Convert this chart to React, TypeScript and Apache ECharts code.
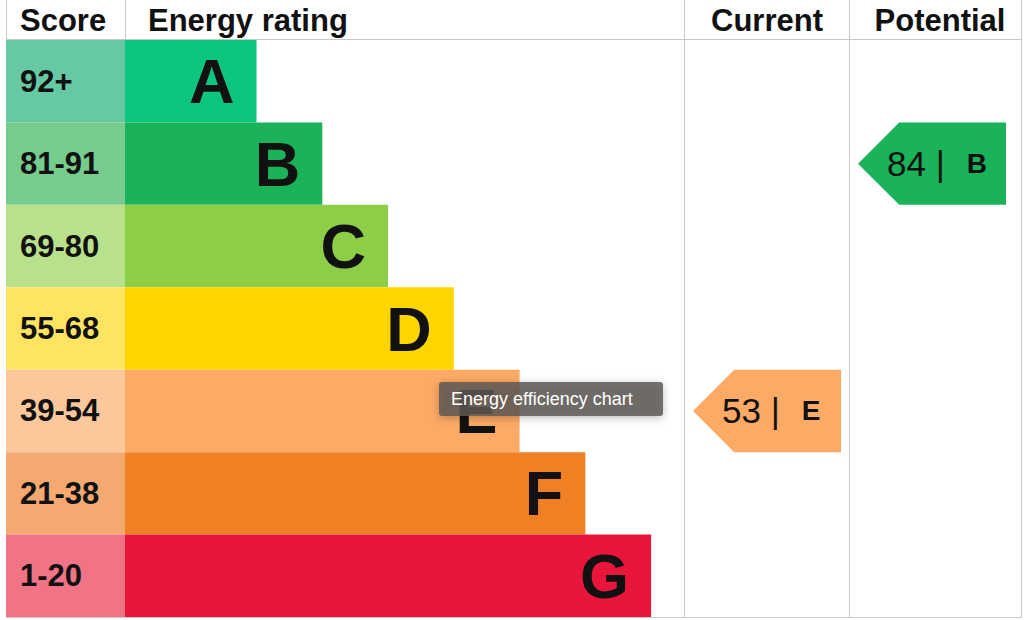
import React, { useEffect, useRef } from "react";
import * as echarts from "echarts";

const bands = ["A", "B", "C", "D", "E", "F", "G"];
const scoreRanges = ["92+", "81-91", "69-80", "55-68", "39-54", "21-38", "1-20"];
const barLengths = [2, 3, 4, 5, 6, 7, 8];
const barColors = ["#0cc57f", "#1bb35a", "#8cce46", "#ffd500", "#fcaa65", "#ef8023", "#e9153b"];
const scoreColors = ["#66c9a3", "#76cc8c", "#b9e08a", "#ffe462", "#fdc79c", "#f4a971", "#f07386"];
const headers = ["Score", "Energy rating", "Current", "Potential"];
const currentScore = 53;
const currentBand = "E";
const potentialScore = 84;
const potentialBand = "B";
const tooltipText = "Energy efficiency chart";

const FONT = "'Liberation Sans', Arial, Helvetica, sans-serif";
const LINE = "#c8c8c8";

const TOP = 40;
const H = 577;

function arrowRender(params: any, api: any) {
  const row = api.value(1);
  const score = api.value(2);
  const band = bands[row];
  const cs = params.coordSys;
  const c = api.coord([0, row]);
  const h = api.size([0, 1])[1];
  const top = c[1] - h / 2;
  const bottom = c[1] + h / 2;
  const x0 = cs.x + 9;
  const w = 148;
  return {
    type: "group",
    children: [
      {
        type: "polygon",
        shape: {
          points: [
            [x0, c[1]],
            [x0 + h / 2, top],
            [x0 + w, top],
            [x0 + w, bottom],
            [x0 + h / 2, bottom],
          ],
        },
        style: { fill: barColors[row] },
      },
      {
        type: "text",
        x: x0 + 29,
        y: c[1],
        style: {
          text: `{n|${score} |}{l|${band}}`,
          align: "left",
          verticalAlign: "middle",
          rich: {
            n: { fontSize: 35, fontFamily: FONT, fill: "#111" },
            l: { fontSize: 28, fontWeight: "bold", fontFamily: FONT, fill: "#111", padding: [0, 0, 0, 22] },
          },
        },
      },
    ],
  };
}

export default function App() {
  const ref = useRef<HTMLDivElement>(null);
  useEffect(() => {
    if (!ref.current) return;
    const chart = echarts.init(ref.current, null, { renderer: "svg" });
    const grids = [
      { left: 6, top: TOP, width: 119, height: H },
      { left: 125, top: TOP, width: 559, height: H },
      { left: 684, top: TOP, width: 165, height: H },
      { left: 849, top: TOP, width: 173, height: H },
    ];
    const xMax = [1, 8.5, 1, 1];
    const option: any = {
      animation: false,
      backgroundColor: "#ffffff",
      grid: grids,
      xAxis: grids.map((_, i) => ({
        type: "value",
        gridIndex: i,
        min: 0,
        max: xMax[i],
        show: false,
      })),
      yAxis: grids.map((_, i) => ({
        type: "category",
        gridIndex: i,
        data: bands,
        inverse: true,
        show: false,
      })),
      series: [
        {
          type: "bar",
          xAxisIndex: 0,
          yAxisIndex: 0,
          barWidth: "100%",
          data: scoreRanges.map((_, i) => ({ value: 1, itemStyle: { color: scoreColors[i] } })),
          label: {
            show: true,
            position: "insideLeft",
            distance: 14,
            formatter: (p: any) => scoreRanges[p.dataIndex],
            fontSize: 31,
            fontWeight: "bold",
            fontFamily: FONT,
            color: "#111",
          },
        },
        {
          type: "bar",
          xAxisIndex: 1,
          yAxisIndex: 1,
          barWidth: "100%",
          data: barLengths.map((v, i) => ({ value: v, itemStyle: { color: barColors[i] } })),
          label: {
            show: true,
            position: "insideRight",
            distance: 22,
            formatter: (p: any) => bands[p.dataIndex],
            fontSize: 63,
            fontWeight: "bold",
            fontFamily: FONT,
            color: "#111",
          },
        },
        {
          type: "custom",
          xAxisIndex: 2,
          yAxisIndex: 2,
          renderItem: arrowRender,
          encode: { x: 0, y: 1 },
          data: [[0, bands.indexOf(currentBand), currentScore]],
        },
        {
          type: "custom",
          xAxisIndex: 3,
          yAxisIndex: 3,
          renderItem: arrowRender,
          encode: { x: 0, y: 1 },
          data: [[0, bands.indexOf(potentialBand), potentialScore]],
        },
      ],
      graphic: [
        { type: "line", shape: { x1: 6, y1: 39.5, x2: 1022, y2: 39.5 }, style: { stroke: LINE, lineWidth: 1 }, z: 10 },
        { type: "line", shape: { x1: 6, y1: 617.5, x2: 1022, y2: 617.5 }, style: { stroke: LINE, lineWidth: 1 }, z: 10 },
        { type: "line", shape: { x1: 6.5, y1: 0, x2: 6.5, y2: 40 }, style: { stroke: LINE, lineWidth: 1 }, z: 10 },
        { type: "line", shape: { x1: 125.5, y1: 0, x2: 125.5, y2: 40 }, style: { stroke: LINE, lineWidth: 1 }, z: 10 },
        { type: "line", shape: { x1: 684.5, y1: 0, x2: 684.5, y2: 618 }, style: { stroke: LINE, lineWidth: 1 }, z: 10 },
        { type: "line", shape: { x1: 849.5, y1: 0, x2: 849.5, y2: 618 }, style: { stroke: LINE, lineWidth: 1 }, z: 10 },
        { type: "line", shape: { x1: 1021.5, y1: 0, x2: 1021.5, y2: 618 }, style: { stroke: LINE, lineWidth: 1 }, z: 10 },
        {
          type: "text", x: 20, y: 20,
          style: { text: headers[0], fontSize: 31, fontWeight: "bold", fontFamily: FONT, fill: "#111", align: "left", verticalAlign: "middle" },
        },
        {
          type: "text", x: 148, y: 20,
          style: { text: headers[1], fontSize: 31, fontWeight: "bold", fontFamily: FONT, fill: "#111", align: "left", verticalAlign: "middle" },
        },
        {
          type: "text", x: 767, y: 20,
          style: { text: headers[2], fontSize: 31, fontWeight: "bold", fontFamily: FONT, fill: "#111", align: "center", verticalAlign: "middle" },
        },
        {
          type: "text", x: 940, y: 20,
          style: { text: headers[3], fontSize: 31, fontWeight: "bold", fontFamily: FONT, fill: "#111", align: "center", verticalAlign: "middle" },
        },
        {
          type: "group",
          zlevel: 5,
          z: 100,
          children: [
            {
              type: "rect",
              zlevel: 5,
              z: 100,
              shape: { x: 439, y: 382, width: 224, height: 34, r: 3 },
              style: { fill: "rgba(92,88,85,0.84)", shadowBlur: 8, shadowColor: "rgba(0,0,0,0.3)", shadowOffsetY: 2 },
            },
            {
              type: "text",
              zlevel: 5,
              z: 101,
              x: 451, y: 399,
              style: { text: tooltipText, fontSize: 18, fontFamily: FONT, fill: "#ffffff", align: "left", verticalAlign: "middle" },
            },
          ],
        },
      ],
    };
    chart.setOption(option);
    return () => chart.dispose();
  }, []);
  return (
    <div
      ref={ref}
      style={{ position: "fixed", left: 0, top: 0, width: 1024, height: 620, background: "#fff" }}
    />
  );
}
